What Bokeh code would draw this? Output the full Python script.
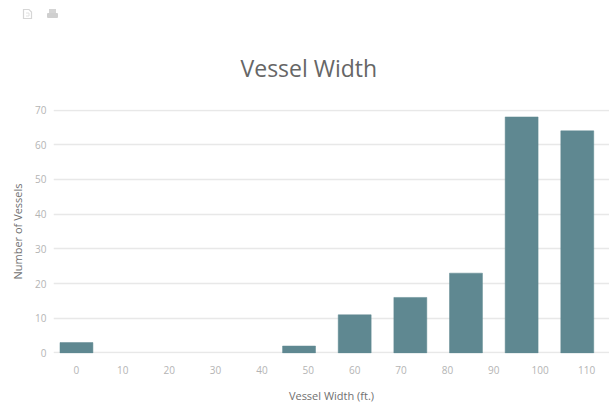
from bokeh.plotting import figure
from bokeh.layouts import column
from bokeh.models import FixedTicker, Range1d, Div
from bokeh.embed import file_html
from bokeh.resources import INLINE

bin_centers = [0, 12, 24, 36, 48, 60, 72, 84, 96, 108]
counts = [3, 0, 0, 0, 2, 11, 16, 23, 68, 64]
x_ticks = [0, 10, 20, 30, 40, 50, 60, 70, 80, 90, 100, 110]
y_ticks = [0, 10, 20, 30, 40, 50, 60, 70]

FONT = "Open Sans"
BAR = "#5f8891"

icons = Div(width=609, height=22, margin=(0, 0, 0, 0), text="""
<svg width="70" height="22" xmlns="http://www.w3.org/2000/svg" style="display:block">
  <path d="M23.5 9.5 H29 L31.5 12 V18.5 H23.5 Z" fill="none" stroke="#d6d6d6" stroke-width="1.2"/>
  <path d="M26 13 H29 V16 H26" fill="none" stroke="#e2e2e2" stroke-width="1"/>
  <rect x="49" y="9" width="7" height="4" fill="#d4d4d4"/>
  <rect x="47" y="13" width="11" height="5" rx="1" fill="#cfcfcf"/>
</svg>""")

p = figure(frame_width=556, frame_height=244, output_backend="svg", toolbar_location=None,
           x_range=Range1d(-4.95, 114.95), y_range=Range1d(-0.15, 70.15),
           min_border_left=53, min_border_right=0, min_border_top=87, min_border_bottom=57)
p.outline_line_color = None
p.background_fill_color = "white"

p.title.text = "Vessel Width"
p.title.align = "left"
p.title.offset = 187
p.title.text_font = FONT
p.title.text_font_size = "23px"
p.title.text_font_style = "normal"
p.title.text_color = "#666666"
p.title.standoff = 52

p.xgrid.visible = False
p.ygrid.grid_line_color = "#e8e8e8"
p.ygrid.grid_line_width = 1.5
p.ygrid.ticker = FixedTicker(ticks=y_ticks)

# only the non-empty bins have a visible bar in the reference
shown = [(x, c) for x, c in zip(bin_centers, counts) if c > 0]
p.vbar(x=[s[0] for s in shown], top=[s[1] for s in shown], bottom=0, width=7.1,
       fill_color=BAR, line_color=BAR, line_width=0.5)

for ax, ticks, lab in ((p.xaxis[0], x_ticks, "Vessel Width (ft.)"), (p.yaxis[0], y_ticks, "Number of Vessels")):
    ax.ticker = FixedTicker(ticks=ticks)
    ax.axis_line_color = None
    ax.major_tick_line_color = None
    ax.minor_tick_line_color = None
    ax.major_tick_out = 0
    ax.major_tick_in = 0
    ax.minor_tick_out = 0
    ax.minor_tick_in = 0
    ax.major_label_text_font = FONT
    ax.major_label_text_font_size = "10px"
    ax.major_label_text_color = "#b4b4b4"
    ax.axis_label = lab
    ax.axis_label_text_font = FONT
    ax.axis_label_text_font_size = "11px"
    ax.axis_label_text_font_style = "normal"
    ax.axis_label_text_color = "#707070"
p.xaxis[0].major_label_standoff = 12
p.xaxis[0].axis_label_standoff = 11
p.yaxis[0].major_label_standoff = 7
p.yaxis[0].axis_label_standoff = 7

page = column(icons, p, spacing=0)
open("out.html", "w").write(file_html(page, INLINE))
